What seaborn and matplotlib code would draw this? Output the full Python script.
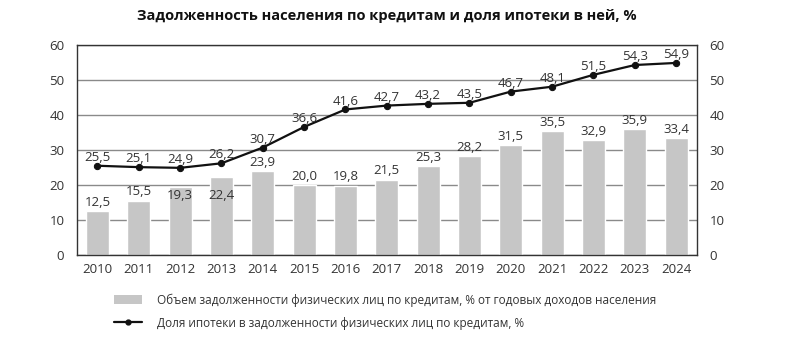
import matplotlib
matplotlib.use("Agg")
import matplotlib.pyplot as plt
import seaborn as sns
import pandas as pd
from matplotlib.patches import Patch
from matplotlib.lines import Line2D

years = [str(y) for y in range(2010, 2025)]
debt_share = [12.5, 15.5, 19.3, 22.4, 23.9, 20.0, 19.8, 21.5, 25.3, 28.2, 31.5, 35.5, 32.9, 35.9, 33.4]
mortgage_share = [25.5, 25.1, 24.9, 26.2, 30.7, 36.6, 41.6, 42.7, 43.2, 43.5, 46.7, 48.1, 51.5, 54.3, 54.9]
yticks = [0, 10, 20, 30, 40, 50, 60]
title = "Задолженность населения по кредитам и доля ипотеки в ней, %"
bar_label = "Объем задолженности физических лиц по кредитам, % от годовых доходов населения"
line_label = "Доля ипотеки в задолженности физических лиц по кредитам, %"

sns.set_theme(style="white")
plt.rcParams["font.family"] = ["Open Sans", "DejaVu Sans"]

df = pd.DataFrame({"year": years, "debt": debt_share, "mortgage": mortgage_share})

fig = plt.figure(figsize=(8, 3.39), dpi=100)
ax = fig.add_axes([0.096, 0.248, 0.775, 0.619])

bar_color = "#c6c6c6"
sns.barplot(data=df, x="year", y="debt", color=bar_color, width=0.55, ax=ax, zorder=2, saturation=1)
sns.lineplot(data=df, x="year", y="mortgage", color="#111111", marker="o", markersize=4.5,
             markeredgecolor="#111111", linewidth=1.6, ax=ax, zorder=3)

ax.set_ylim(0, 60)
ax.set_xlim(-0.5, len(years) - 0.5)
ax.set_yticks(yticks)
ax.set_xlabel("")
ax.set_ylabel("")
ax.yaxis.grid(True, color="#8a8a8a", linewidth=1.0, zorder=0)
ax.set_axisbelow(True)
for s in ax.spines.values():
    s.set_color("#333333")
    s.set_linewidth(1.0)
ax.tick_params(axis="both", length=0, labelsize=9.5, colors="#333333")
ax.tick_params(axis="y", pad=9)
ax.tick_params(axis="x", pad=6)

ax2 = ax.twinx()
ax2.set_ylim(0, 60)
ax2.set_yticks(yticks)
ax2.tick_params(axis="y", length=0, labelsize=9.5, colors="#333333", pad=9)
for s in ax2.spines.values():
    s.set_visible(False)

def fmt(v):
    return f"{v:.1f}".replace(".", ",")

# bar labels (two overlap bar tops in the original)
for i, v in enumerate(debt_share):
    if years[i] in ("2012", "2013"):
        y = 17.1
    else:
        y = v + 2.5
    ax.text(i, y, fmt(v), ha="center", va="center", fontsize=9.5, color="#333333", zorder=4)

for i, v in enumerate(mortgage_share):
    ax.text(i, v + 2.4, fmt(v), ha="center", va="center", fontsize=9.5, color="#333333", zorder=4)

fig.text(0.484, 0.952, title, ha="center", va="center", fontsize=10.5, fontweight="bold", color="#111111")

handles = [Patch(facecolor=bar_color, edgecolor="none"),
           Line2D([0], [0], color="#111111", marker="o", markersize=3.5, linewidth=1.6)]
fig.legend(handles, [bar_label, line_label], loc="upper left", bbox_to_anchor=(0.142, 0.135),
           frameon=False, fontsize=8.5, handlelength=2.4, handleheight=0.8, handletextpad=1.3,
           labelspacing=0.85, labelcolor="#333333", borderaxespad=0, borderpad=0)

fig.savefig("out.png", dpi=100)
